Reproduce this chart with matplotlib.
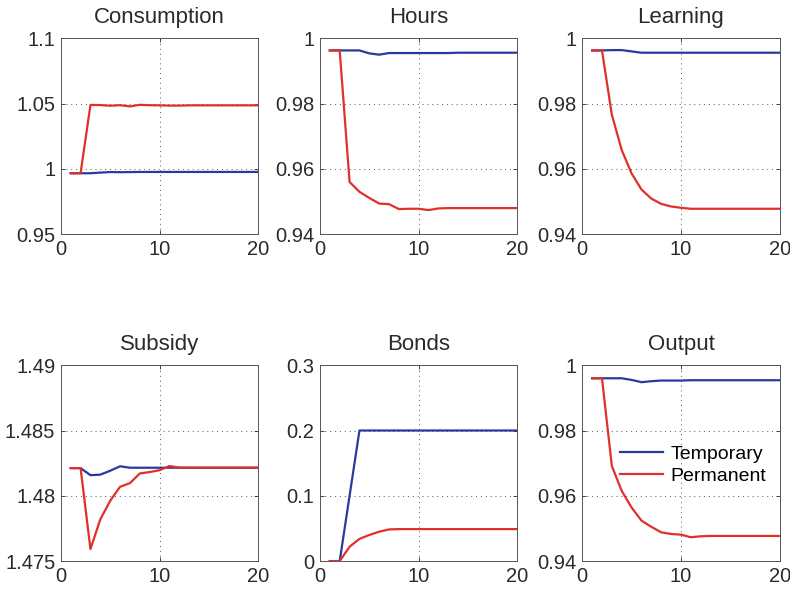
import numpy as np
import matplotlib
matplotlib.use("Agg")
import matplotlib.pyplot as plt
from matplotlib.ticker import FuncFormatter

plt.rcParams['font.family'] = ['Liberation Sans', 'DejaVu Sans']

t = np.arange(1, 21)

# impulse responses, temporary vs permanent shock
cons_temp = [0.9967, 0.9967, 0.9967, 0.9972, 0.9976, 0.9975, 0.9976, 0.9977, 0.9977, 0.9977,
             0.9977, 0.9977, 0.9977, 0.9977, 0.9977, 0.9977, 0.9977, 0.9977, 0.9977, 0.9977]
cons_perm = [0.9967, 0.9967, 1.0490, 1.0489, 1.0484, 1.0488, 1.0479, 1.0491, 1.0488, 1.0487,
             1.0485, 1.0485, 1.0487, 1.0487, 1.0487, 1.0487, 1.0487, 1.0487, 1.0487, 1.0487]

hours_temp = [0.9963, 0.9963, 0.9963, 0.9963, 0.9954, 0.9950, 0.9955, 0.9955, 0.9955, 0.9955,
              0.9955, 0.9955, 0.9955, 0.9956, 0.9956, 0.9956, 0.9956, 0.9956, 0.9956, 0.9956]
hours_perm = [0.9963, 0.9963, 0.9560, 0.9530, 0.9511, 0.9494, 0.9492, 0.9477, 0.9478, 0.9478,
              0.9474, 0.9479, 0.9480, 0.9480, 0.9480, 0.9480, 0.9480, 0.9480, 0.9480, 0.9480]

learn_temp = [0.9963, 0.9963, 0.9964, 0.9964, 0.9960, 0.9956, 0.9956, 0.9956, 0.9956, 0.9956,
              0.9956, 0.9956, 0.9956, 0.9956, 0.9956, 0.9956, 0.9956, 0.9956, 0.9956, 0.9956]
learn_perm = [0.9963, 0.9963, 0.9766, 0.9658, 0.9586, 0.9537, 0.9509, 0.9493, 0.9485, 0.9481,
              0.9478, 0.9478, 0.9478, 0.9478, 0.9478, 0.9478, 0.9478, 0.9478, 0.9478, 0.9478]

subs_temp = [1.48212, 1.48212, 1.48158, 1.48162, 1.48192, 1.48226, 1.48215, 1.48215, 1.48215, 1.48215,
             1.48215, 1.48215, 1.48215, 1.48215, 1.48215, 1.48215, 1.48215, 1.48215, 1.48215, 1.48215]
subs_perm = [1.48212, 1.48212, 1.47592, 1.47820, 1.47962, 1.48069, 1.48097, 1.48171, 1.48182, 1.48196,
             1.48228, 1.48216, 1.48215, 1.48215, 1.48215, 1.48215, 1.48215, 1.48215, 1.48215, 1.48215]

bond_temp = [0.0, 0.0, 0.100, 0.200, 0.200, 0.200, 0.200, 0.200, 0.200, 0.200,
             0.200, 0.200, 0.200, 0.200, 0.200, 0.200, 0.200, 0.200, 0.200, 0.200]
bond_perm = [0.0, 0.0, 0.022, 0.034, 0.040, 0.045, 0.0485, 0.049, 0.049, 0.049,
             0.049, 0.049, 0.049, 0.049, 0.049, 0.049, 0.049, 0.049, 0.049, 0.049]

out_temp = [0.9960, 0.9960, 0.9960, 0.9960, 0.9955, 0.9948, 0.9951, 0.9953, 0.9953, 0.9953,
            0.9954, 0.9954, 0.9954, 0.9954, 0.9954, 0.9954, 0.9954, 0.9954, 0.9954, 0.9954]
out_perm = [0.9960, 0.9960, 0.9691, 0.9615, 0.9564, 0.9524, 0.9505, 0.9488, 0.9483, 0.9481,
            0.9473, 0.9476, 0.9477, 0.9477, 0.9477, 0.9477, 0.9477, 0.9477, 0.9477, 0.9477]

titles = ['Consumption', 'Hours', 'Learning', 'Subsidy', 'Bonds', 'Output']
temp_series = [cons_temp, hours_temp, learn_temp, subs_temp, bond_temp, out_temp]
perm_series = [cons_perm, hours_perm, learn_perm, subs_perm, bond_perm, out_perm]
y_ticks = [[0.95, 1.0, 1.05, 1.1],
           [0.94, 0.96, 0.98, 1.0],
           [0.94, 0.96, 0.98, 1.0],
           [1.475, 1.48, 1.485, 1.49],
           [0.0, 0.1, 0.2, 0.3],
           [0.94, 0.96, 0.98, 1.0]]
x_ticks = [0, 10, 20]

blue = '#2a3a9c'
red = '#e0302a'

fig = plt.figure(figsize=(7.9, 5.9), dpi=100)

lefts = [0.077, 0.405, 0.737]
bottoms = [0.603, 0.049]
w, h = 0.250, 0.332

for i in range(6):
    ax = fig.add_axes([lefts[i % 3], bottoms[i // 3], w, h])
    ax.plot(t, temp_series[i], color=blue, lw=1.6, label='Temporary')
    ax.plot(t, perm_series[i], color=red, lw=1.6, label='Permanent')
    ax.set_xlim(0, 20)
    ax.set_ylim(y_ticks[i][0], y_ticks[i][-1])
    ax.set_xticks(x_ticks)
    ax.set_yticks(y_ticks[i])
    ax.yaxis.set_major_formatter(FuncFormatter(lambda v, p: '%g' % round(v, 4)))
    ax.grid(True, linestyle=(0, (1, 4)), color='#555555', lw=0.7)
    ax.tick_params(direction='in', top=True, right=True, length=3, width=0.6,
                   labelsize=14.5, colors='#2a2a2a', pad=4)
    for s in ax.spines.values():
        s.set_color('#555555')
        s.set_linewidth(0.7)
    ax.set_title(titles[i], fontsize=16, color='#2a2a2a', pad=11)
    if i == 5:
        ax.legend(loc='center right', bbox_to_anchor=(1.0, 0.49), frameon=False,
                  fontsize=14, handlelength=2.2, handletextpad=0.4, labelspacing=0.2,
                  borderpad=0.2)

fig.savefig('out.png', dpi=100)
